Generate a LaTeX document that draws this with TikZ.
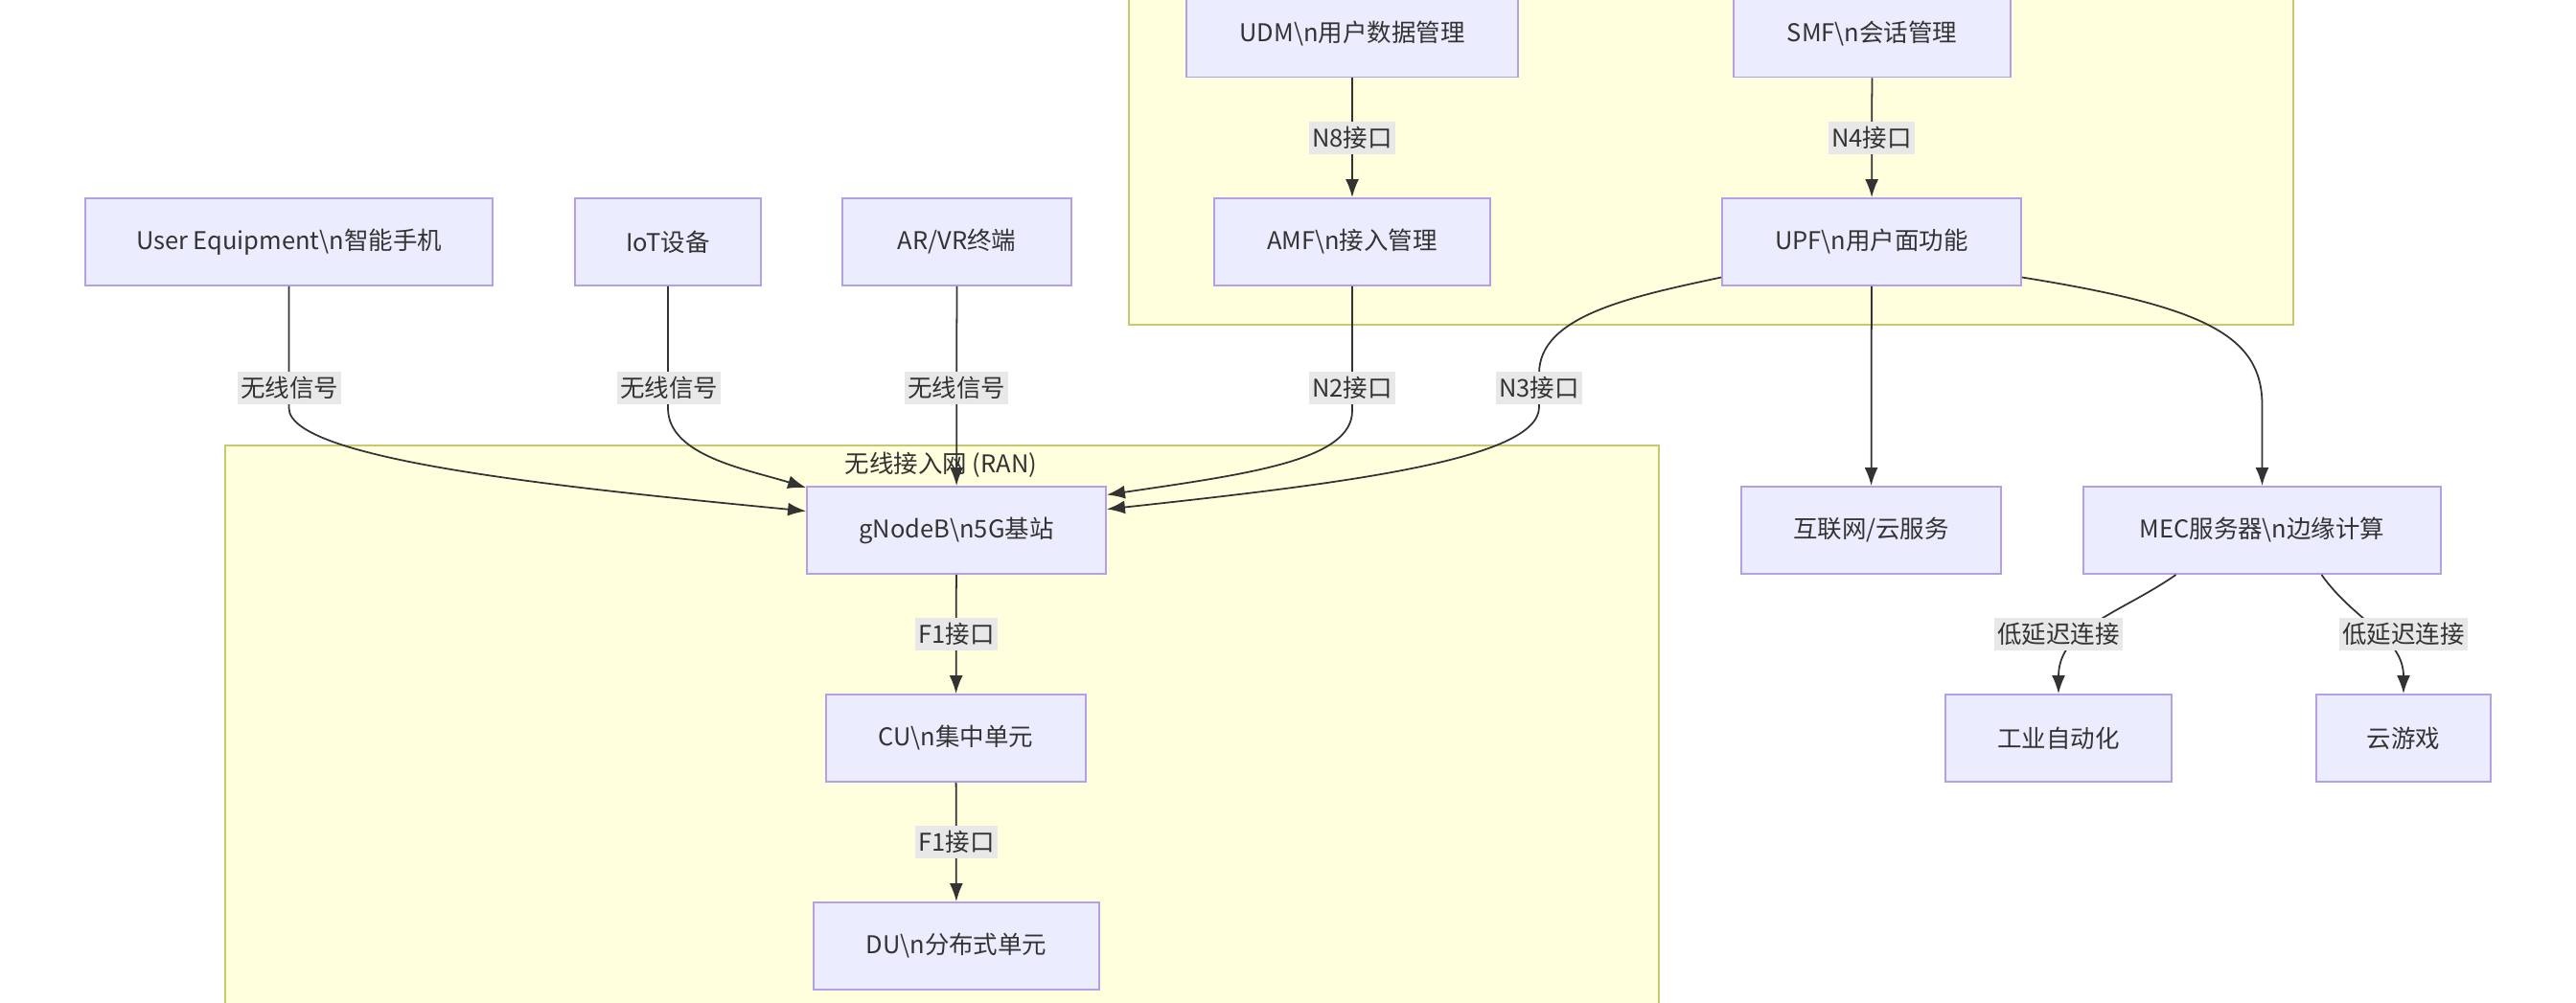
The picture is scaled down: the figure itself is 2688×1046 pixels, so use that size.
\documentclass[tikz,border=0pt]{standalone}
\usepackage{fontspec}
\setmainfont{Noto Sans CJK SC}
\usepackage{xcolor}
\usepackage{tikz}
\usetikzlibrary{calc,arrows.meta}
\definecolor{nfill}{HTML}{ECECFF}
\definecolor{nline}{HTML}{B3A0E6}
\definecolor{cfill}{HTML}{FFFFDE}
\definecolor{cline}{HTML}{C8C870}
\definecolor{lbg}{HTML}{E8E8E8}
\definecolor{txt}{HTML}{333333}
\def\bsn{\textbackslash n}

\begin{document}
\begin{tikzpicture}[x=0.02cm,y=0.02cm,>={Latex[length=0.38cm,width=0.28cm]},
	nbox/.style={draw=nline,fill=nfill,line width=1.1pt,minimum height=1.82cm,text=txt,
		font=\fontsize{14.5}{17}\selectfont},
	elbl/.style={fill=lbg,inner xsep=2pt,inner ysep=3pt,text=txt,font=\fontsize{14.5}{17}\selectfont},
	grp/.style={draw=cline,fill=cfill,line width=1.1pt},
	edge/.style={->,draw=txt,line width=1pt}]
			\useasboundingbox (0,0) rectangle (2688,-1046);
			\clip (0,0) rectangle (2688,-1046);
			
			\draw[grp] (1178,-339) rectangle (2393,60);
			\draw[grp] (235,-465) rectangle (1731,-1100);
			\node[text=txt,font=\fontsize{14.5}{17}\selectfont] (ranlbl) at (982,-485) {无线接入网 (RAN)};
			
			\node[nbox,minimum width=6.92cm] (udm) at (1411,-35) {UDM\bsn 用户数据管理};
			\node[nbox,minimum width=5.78cm] (smf) at (1953.5,-35) {SMF\bsn 会话管理};
			\node[nbox,minimum width=5.76cm] (amf) at (1411,-252.5) {AMF\bsn 接入管理};
			\node[nbox,minimum width=6.24cm] (upf) at (1953,-252.5) {UPF\bsn 用户面功能};
			
			\node[nbox,minimum width=8.5cm] (ue) at (301.5,-252.5) {User Equipment\bsn 智能手机};
			\node[nbox,minimum width=3.88cm] (iot) at (697,-252.5) {IoT设备};
			\node[nbox,minimum width=4.78cm] (arvr) at (998.5,-252.5) {AR/VR终端};
			
			\node[nbox,minimum width=6.24cm] (gnb) at (998,-553.5) {gNodeB\bsn 5G基站};
			\node[nbox,minimum width=5.42cm] (cu) at (997.5,-770.5) {CU\bsn 集中单元};
			\node[nbox,minimum width=5.96cm] (du) at (998,-987.5) {DU\bsn 分布式单元};
			
			\node[nbox,minimum width=5.42cm] (inet) at (1952.5,-553.5) {互联网/云服务};
			\node[nbox,minimum width=7.46cm] (mec) at (2360.5,-553.5) {MEC服务器\bsn 边缘计算};
			\node[nbox,minimum width=4.72cm] (ind) at (2148,-770.5) {工业自动化};
			\node[nbox,minimum width=3.64cm] (game) at (2508,-770.5) {云游戏};
			
			\draw[edge] (udm) -- (amf);
			\draw[edge] (smf) -- (upf);
			\draw[edge] (upf) -- (inet);
			\draw[edge] (arvr) -- (gnb);
			\draw[edge] (gnb) -- (cu);
			\draw[edge] (cu) -- (du);
			\draw[edge] (ue.south) -- ++(0,-127) .. controls ++(0,-55) and (600,-510) .. ($(gnb.west)+(0,20)$);
			\draw[edge] (iot.south) -- ++(0,-127) .. controls ++(0,-50) and (780,-490) .. ($(gnb.north west)+(0,-2)$);
			\draw[edge] (amf.south) -- ++(0,-130) .. controls ++(0,-52) and (1300,-495) .. ($(gnb.east)+(0,37)$);
			\draw[edge] ($(upf.west)+(0,-37)$) .. controls (1700,-310) and (1606,-330) .. (1606,-390) -- (1606,-425)
			.. controls (1606,-480) and (1400,-505) .. ($(gnb.east)+(0,22)$);
			\draw[edge] ($(upf.east)+(0,-37)$) .. controls (2300,-320) and (2360,-350) .. ($(mec.north)+(0,85)$) -- (mec.north);
			\draw[edge] ($(mec.south)+(-90,0)$) to[out=-145,in=90] (ind.north);
			\draw[edge] ($(mec.south)+(62,0)$) to[out=-55,in=90] (game.north);
			
			\node[elbl] (w1) at (302,-405) {无线信号};
			\node[elbl] (w2) at (698,-405) {无线信号};
			\node[elbl] (w3) at (998,-405) {无线信号};
			\node[elbl] (n8) at (1411,-144) {N8接口};
			\node[elbl] (n4) at (1953,-144) {N4接口};
			\node[elbl] (n2) at (1411,-405) {N2接口};
			\node[elbl] (n3) at (1606,-405) {N3接口};
			\node[elbl] (f1a) at (998,-662) {F1接口};
			\node[elbl] (f1b) at (998,-879) {F1接口};
			\node[elbl] (ll1) at (2148,-662) {低延迟连接};
			\node[elbl] (ll2) at (2508,-662) {低延迟连接};
		\end{tikzpicture}
\end{document}
